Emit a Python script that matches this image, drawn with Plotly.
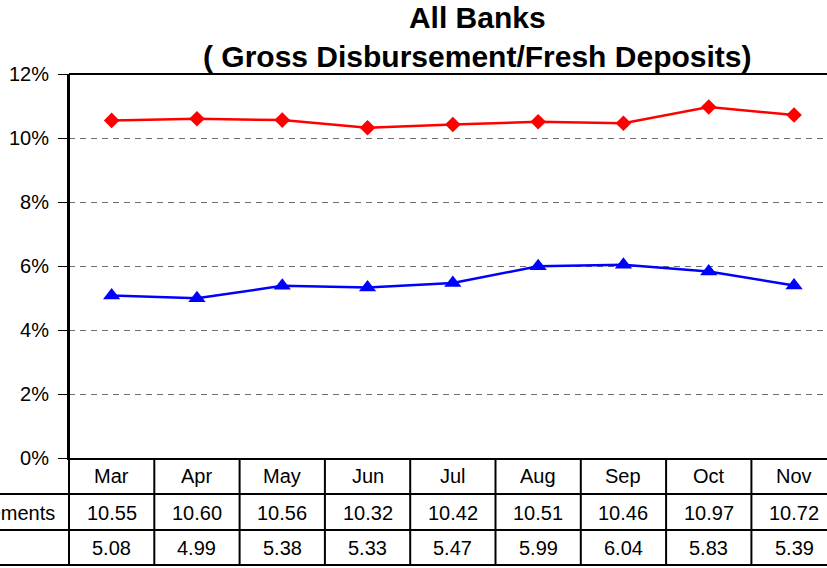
import plotly.graph_objects as go

months = ["Mar", "Apr", "May", "Jun", "Jul", "Aug", "Sep", "Oct", "Nov"]
series_names = ["Gross Disbursements", "Fresh Deposits"]
gross_disb = [10.55, 10.60, 10.56, 10.32, 10.42, 10.51, 10.46, 10.97, 10.72]
fresh_dep = [5.08, 4.99, 5.38, 5.33, 5.47, 5.99, 6.04, 5.83, 5.39]
y_ticks = [0, 2, 4, 6, 8, 10, 12]
title_lines = ["All Banks", "( Gross Disbursement/Fresh Deposits)"]

FONT = "Liberation Sans, Arial, sans-serif"
W, H = 827, 568
ML, MT, MB = 69, 74, 110
PW = W - ML
PH = H - MT - MB
CAT_W = 85.3  # pixel width per category

def px_x(px):
    return (px - ML) / PW

def px_y(py):
    return (H - MB - py) / PH

xs = list(range(len(months)))

fig = go.Figure()
fig.add_trace(go.Scatter(
    x=xs, y=gross_disb, mode="lines+markers", name=series_names[0],
    line=dict(color="#FF0000", width=2.5),
    marker=dict(symbol="diamond", size=12, color="#FF0000"),
))
fig.add_trace(go.Scatter(
    x=xs, y=fresh_dep, mode="lines+markers", name=series_names[1],
    line=dict(color="#0000FF", width=2.5),
    marker=dict(symbol="triangle-up", size=15, color="#0000FF"),
))

shapes = []
annotations = []

row_bottom = 565
row_centers = [476, 513, 548]

for py in [494, 530, 565]:
    shapes.append(dict(type="line", xref="paper", yref="paper",
                       x0=px_x(0), x1=1.05, y0=px_y(py), y1=px_y(py),
                       line=dict(color="black", width=2)))
shapes.append(dict(type="line", xref="paper", yref="paper",
                   x0=0, x1=0, y0=px_y(row_bottom), y1=1,
                   line=dict(color="black", width=2)))
shapes.append(dict(type="line", xref="paper", yref="paper",
                   x0=0, x1=1.05, y0=1, y1=1,
                   line=dict(color="black", width=2)))
for i in range(1, len(months)):
    shapes.append(dict(type="line", xref="x", yref="paper",
                       x0=i - 0.5, x1=i - 0.5, y0=px_y(row_bottom), y1=0,
                       line=dict(color="black", width=2)))

cell_font = dict(family=FONT, size=20, color="black")
for i, m in enumerate(months):
    annotations.append(dict(x=i, y=px_y(row_centers[0]), xref="x", yref="paper",
                            text=m, showarrow=False, font=cell_font,
                            xanchor="center", yanchor="middle"))
    annotations.append(dict(x=i, y=px_y(row_centers[1]), xref="x", yref="paper",
                            text=f"{gross_disb[i]:.2f}", showarrow=False, font=cell_font,
                            xanchor="center", yanchor="middle"))
    annotations.append(dict(x=i, y=px_y(row_centers[2]), xref="x", yref="paper",
                            text=f"{fresh_dep[i]:.2f}", showarrow=False, font=cell_font,
                            xanchor="center", yanchor="middle"))

# series labels in the legend column, which is cropped at the left edge
annotations.append(dict(x=px_x(56), y=px_y(row_centers[1]), xref="paper", yref="paper",
                        text=series_names[0], showarrow=False, font=cell_font,
                        xanchor="right", yanchor="middle", borderpad=0))
annotations.append(dict(x=px_x(-6), y=px_y(row_centers[2]), xref="paper", yref="paper",
                        text=series_names[1], showarrow=False, font=cell_font,
                        xanchor="right", yanchor="middle", borderpad=0))

annotations.append(dict(x=px_x(477), y=1, xref="paper", yref="paper",
                        text="<b>" + "<br>".join(title_lines) + "</b>",
                        showarrow=False, xanchor="center", yanchor="bottom",
                        yshift=-1,
                        font=dict(family=FONT, size=30, color="black")))

fig.update_layout(
    width=W, height=H,
    margin=dict(l=ML, r=0, t=MT, b=MB, pad=0),
    paper_bgcolor="white", plot_bgcolor="white",
    showlegend=False,
    xaxis=dict(range=[-0.5, -0.5 + PW / CAT_W], showticklabels=False,
               showgrid=False, zeroline=False, showline=True,
               linecolor="black", linewidth=2, ticks="", fixedrange=True),
    yaxis=dict(range=[0, 12], tickvals=y_ticks, ticktext=[f"{v}%" for v in y_ticks],
               showgrid=True, gridcolor="#6e6e6e", gridwidth=1, griddash="6px,5px",
               zeroline=False, showline=True, linecolor="black", linewidth=2,
               ticks="outside", ticklen=9, tickwidth=1, tickcolor="black",
               ticklabelstandoff=5,
               tickfont=dict(family=FONT, size=20, color="black"), fixedrange=True),
    shapes=shapes,
    annotations=annotations,
)

fig.write_html("out.html", config={"displayModeBar": False},
               post_script="document.body.style.margin='0';document.body.style.overflow='hidden';")
